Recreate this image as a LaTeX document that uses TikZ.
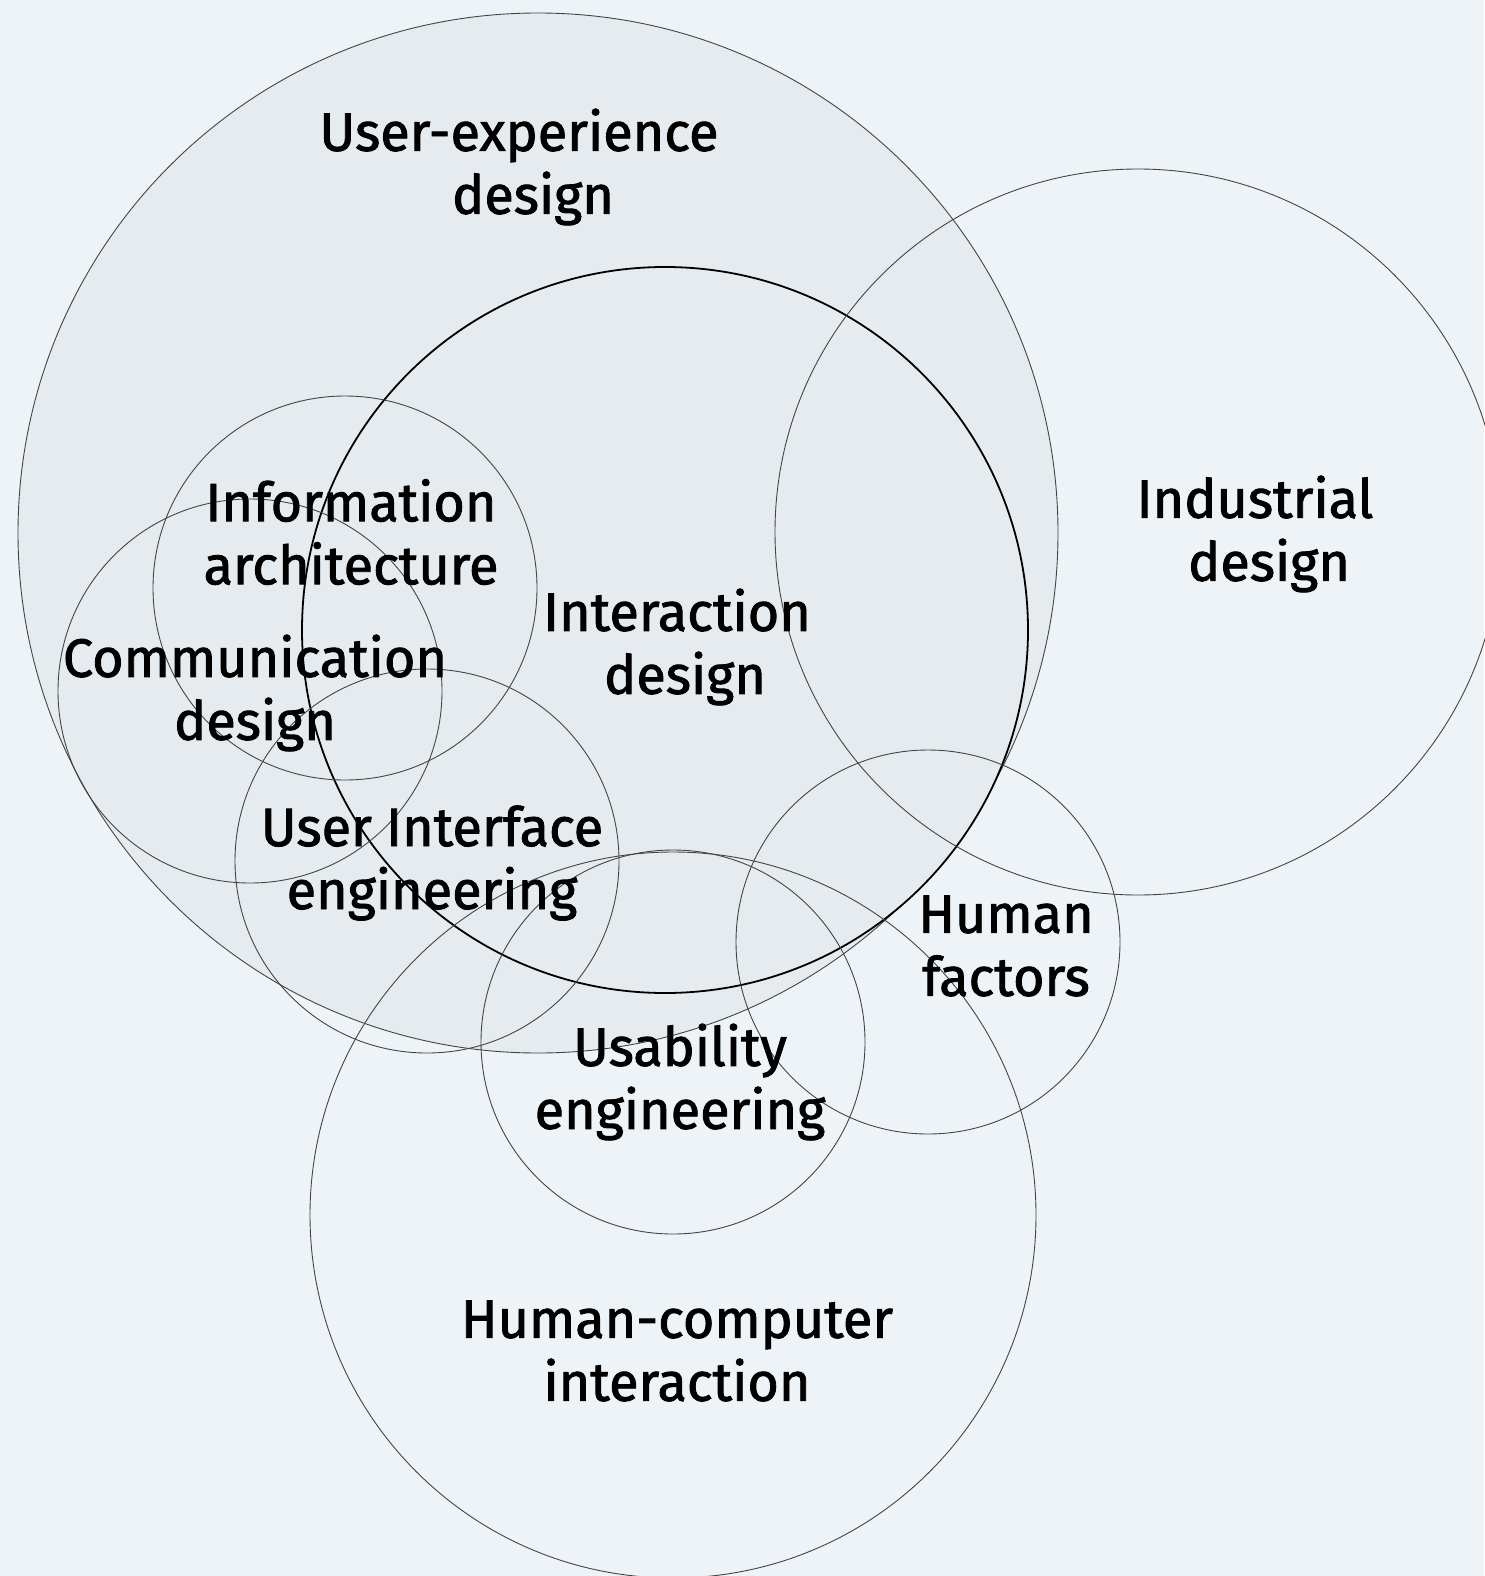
\documentclass[tikz,border=0pt]{standalone}
\usepackage{fontspec}
\setmainfont{Fira Sans}
\newfontfamily\lblfont{Fira Sans}[FakeBold=1.6]
\definecolor{bg}{HTML}{EEF3F7}
\definecolor{fillux}{HTML}{E6EBEF}
\definecolor{edge}{HTML}{444444}
\begin{document}
\begin{tikzpicture}[x=1pt,y=-1pt,
  ring/.style={draw=edge,line width=0.9pt},
  mainring/.style={draw=black,line width=1.8pt},
  lbl/.style={align=center,font=\lblfont\fontsize{54}{63}\selectfont,text=black,inner sep=0pt}]
\fill[bg] (0,0) rectangle (1484,1576);
\useasboundingbox (0,0) rectangle (1484,1576);
% filled circles
\filldraw[fill=fillux,ring] (538,533) circle[radius=520];
\filldraw[fill=fillux,mainring] (665,630) circle[radius=363];
% other circles
\draw[ring] (1138,532) circle[radius=363];
\draw[ring] (345,588) circle[radius=192];
\draw[ring] (250,691) circle[radius=192];
\draw[ring] (427,861) circle[radius=192];
\draw[ring] (673,1042) circle[radius=192];
\draw[ring] (928,942) circle[radius=192];
\draw[ring] (673,1215) circle[radius=363];
% labels
\node[lbl] (ux) at (526,167) {User-experience\kern14pt\\\kern14pt design};
\node[lbl] (ia) at (351,532) {Information\\architecture};
\node[lbl] (cd) at (255,693) {Communication\\design};
\node[lbl] (ixd) at (681,647) {Interaction\kern8pt\\\kern8pt design};
\node[lbl] (ind) at (1262,534) {Industrial\kern14pt\\\kern14pt design};
\node[lbl] (uie) at (432,863) {User Interface\\engineering};
\node[lbl] (hf) at (1006,946) {Human\\factors};
\node[lbl] (ue) at (680,1082) {Usability\\engineering};
\node[lbl] (hci) at (677,1351) {Human-computer\\interaction};
\end{tikzpicture}
\end{document}
